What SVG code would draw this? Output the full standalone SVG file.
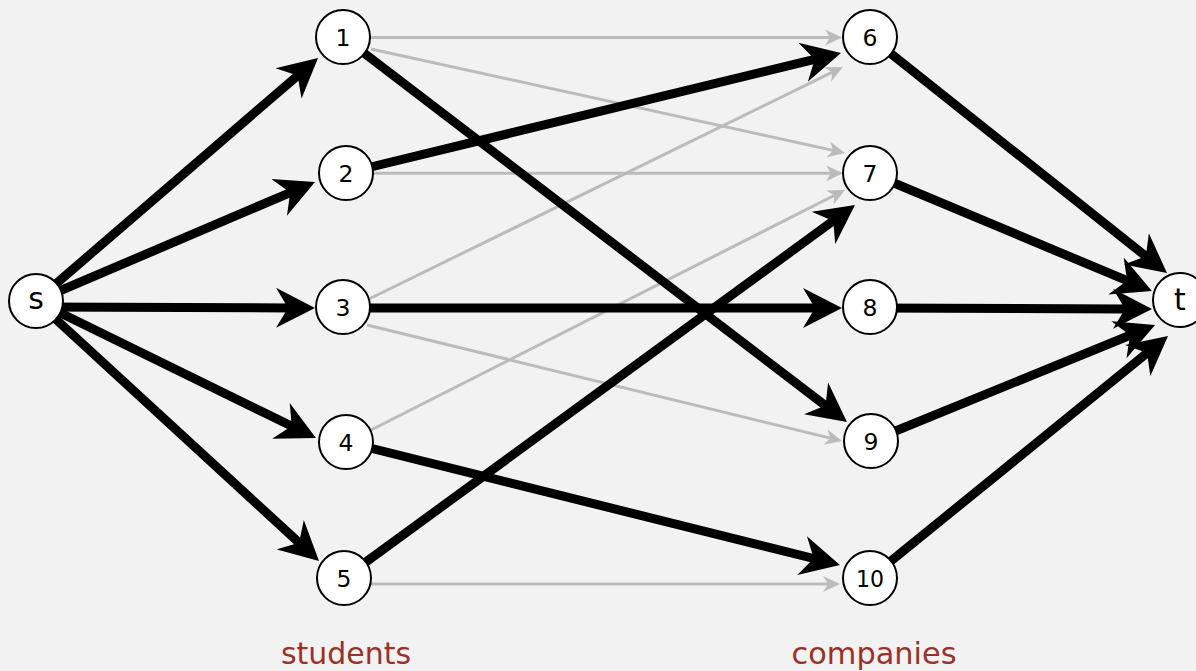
<svg xmlns="http://www.w3.org/2000/svg" width="1196" height="671" viewBox="0 0 1196 671">
<style>
.thick{stroke:#000;stroke-width:9;fill:none;marker-end:url(#ah)}
.thin{stroke:#bbb;stroke-width:3;fill:none;marker-end:url(#ahg)}
.node circle{fill:#fff;stroke:#000;stroke-width:2}
.node text{font-family:"DejaVu Sans","Liberation Sans",sans-serif;font-size:23.5px;text-anchor:middle;fill:#000}
.node text.big{font-size:30px}
.cap{font-family:"DejaVu Sans","Liberation Sans",sans-serif;font-size:31px;fill:#9b3228;text-anchor:middle}
</style>
<defs>
<marker id="ah" markerUnits="userSpaceOnUse" viewBox="0 -21 40 42" markerWidth="40" markerHeight="42" refX="14" refY="0" orient="auto">
<path d="M39,0 L0,-20 L12,0 L0,20 Z" fill="#000"/>
</marker>
<marker id="ahg" markerUnits="userSpaceOnUse" viewBox="0 -9 18 18" markerWidth="18" markerHeight="18" refX="7" refY="0" orient="auto">
<path d="M17,0 L0,-8 L5,0 L0,8 Z" fill="#bbb"/>
</marker>
</defs>
<rect x="0" y="0" width="1196" height="671" fill="#f2f2f2"/>
<g id="connectors">
<line class="thin" x1="371" y1="37.5" x2="832" y2="37.5"/>
<line class="thin" x1="371" y1="49" x2="835.2" y2="150.9"/>
<line class="thin" x1="373" y1="173.3" x2="833" y2="173.3"/>
<line class="thin" x1="369" y1="299" x2="834" y2="71.4"/>
<line class="thin" x1="367" y1="325" x2="832.3" y2="438.6"/>
<line class="thin" x1="371" y1="430" x2="836.1" y2="194.5"/>
<line class="thin" x1="370" y1="584" x2="830" y2="584"/>
<line class="thick" x1="36" y1="301" x2="299.1" y2="74.3"/>
<line class="thick" x1="36" y1="301" x2="292" y2="191.8"/>
<line class="thick" x1="36" y1="307" x2="290" y2="307.9"/>
<line class="thick" x1="36" y1="301" x2="293.5" y2="427"/>
<line class="thick" x1="36" y1="301" x2="300.6" y2="544.1"/>
<line class="thick" x1="343" y1="37" x2="827.1" y2="406.8"/>
<line class="thick" x1="346" y1="173" x2="816.7" y2="58.9"/>
<line class="thick" x1="343" y1="308" x2="817" y2="308"/>
<line class="thick" x1="346" y1="442" x2="815.7" y2="559"/>
<line class="thick" x1="344" y1="578" x2="834.8" y2="219.7"/>
<line class="thick" x1="870" y1="37" x2="1147.4" y2="257.5"/>
<line class="thick" x1="870" y1="173" x2="1128.9" y2="281.4"/>
<line class="thick" x1="870" y1="308" x2="1127" y2="308.9"/>
<line class="thick" x1="871" y1="441" x2="1131.9" y2="334.5"/>
<line class="thick" x1="870" y1="578" x2="1148.6" y2="351.8"/>
</g>
<g id="node-s" class="node"><circle cx="36" cy="301" r="27"/><text class="big" x="36" y="309">s</text></g>
<g id="node-t" class="node"><circle cx="1180" cy="300" r="27"/><text class="big" x="1180" y="310">t</text></g>
<g id="node-1" class="node"><circle cx="343" cy="37" r="27"/><text x="343" y="45.5">1</text></g>
<g id="node-2" class="node"><circle cx="346" cy="173" r="27"/><text x="346" y="181.5">2</text></g>
<g id="node-3" class="node"><circle cx="343" cy="307" r="27"/><text x="343" y="315.5">3</text></g>
<g id="node-4" class="node"><circle cx="346" cy="442" r="27"/><text x="346" y="450.5">4</text></g>
<g id="node-5" class="node"><circle cx="344" cy="578" r="27"/><text x="344" y="586.5">5</text></g>
<g id="node-6" class="node"><circle cx="870" cy="37" r="27"/><text x="870" y="45.5">6</text></g>
<g id="node-7" class="node"><circle cx="870" cy="173" r="27"/><text x="870" y="181.5">7</text></g>
<g id="node-8" class="node"><circle cx="870" cy="307" r="27"/><text x="870" y="315.5">8</text></g>
<g id="node-9" class="node"><circle cx="871" cy="441" r="27"/><text x="871" y="449.5">9</text></g>
<g id="node-10" class="node"><circle cx="870" cy="578" r="27"/><text x="870" y="586.5" textLength="28" lengthAdjust="spacingAndGlyphs">10</text></g>
<text class="cap" x="346" y="664" textLength="130" lengthAdjust="spacingAndGlyphs">students</text>
<text class="cap" x="874" y="664" textLength="165" lengthAdjust="spacingAndGlyphs">companies</text>
</svg>
